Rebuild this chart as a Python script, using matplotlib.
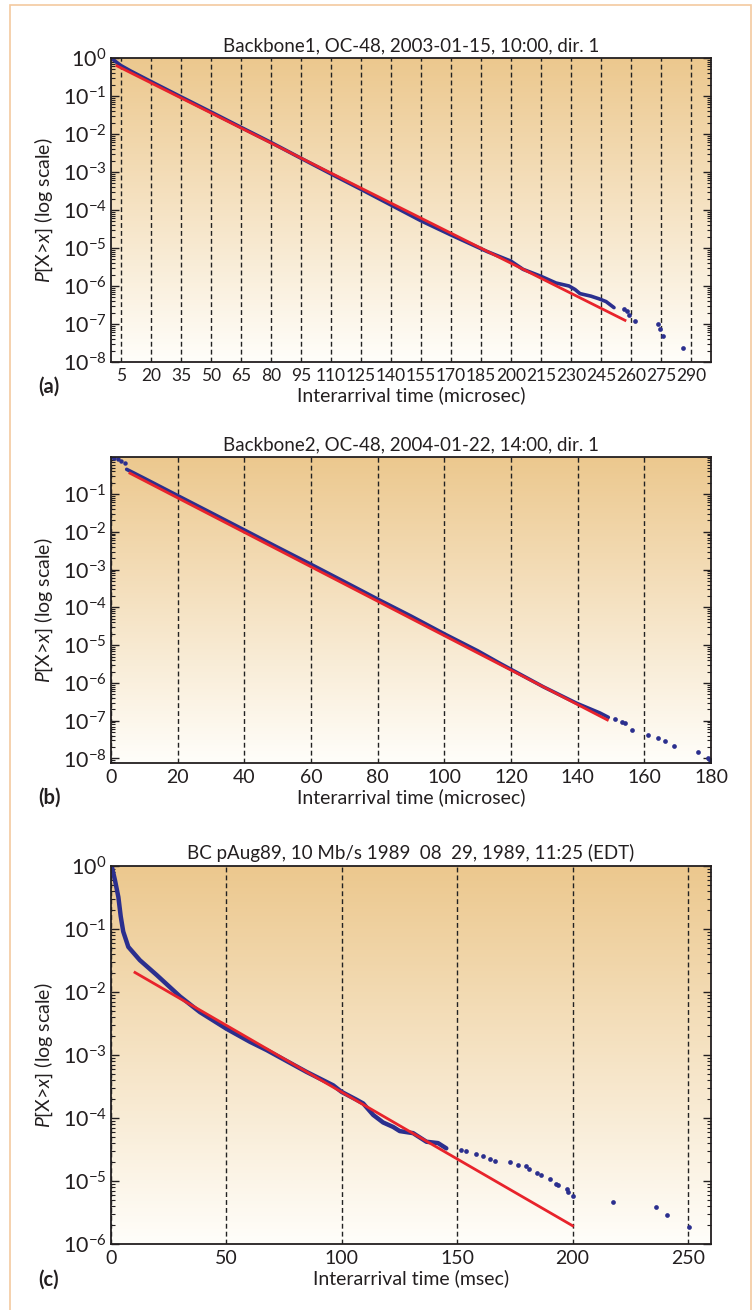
import matplotlib
matplotlib.use("Agg")
import matplotlib.pyplot as plt
import numpy as np
from matplotlib.patches import Rectangle
from matplotlib.ticker import FixedLocator, LogLocator, NullFormatter

plt.rcParams['font.family'] = ['Lato', 'DejaVu Sans']
plt.rcParams['mathtext.fontset'] = 'custom'
plt.rcParams['mathtext.rm'] = 'Lato'
plt.rcParams['mathtext.it'] = 'Lato:italic'
plt.rcParams['mathtext.bf'] = 'Lato:bold'

# ---- panel (a): Backbone1 ----
a_x = [0, 5, 10, 20, 35, 50, 65, 80, 95, 110, 125, 140, 155, 170, 188,
       200, 206, 215, 222.5, 229, 232, 234.5, 240, 244, 247.5, 251.5]
a_y = [1.0, 0.63, 0.45, 0.24, 0.095, 0.038, 0.015, 6.0e-3, 2.3e-3, 8.9e-4,
       3.5e-4, 1.35e-4, 5.2e-5, 2.2e-5, 8.1e-6, 4.5e-6, 2.75e-6, 1.8e-6,
       1.2e-6, 1.0e-6, 8.1e-7, 6.3e-7, 5.4e-7, 4.6e-7, 3.9e-7, 2.7e-7]
a_tail_x = [256.5, 258, 259, 262, 273.5, 274.5, 276, 286]
a_tail_y = [2.45e-7, 2.2e-7, 1.75e-7, 1.2e-7, 1.0e-7, 7.2e-8, 4.9e-8, 2.4e-8]
a_fit_x = [3, 257]
a_fit_y = [0.62, 1.25e-7]
a_ticks = [5, 20, 35, 50, 65, 80, 95, 110, 125, 140, 155, 170, 185, 200,
           215, 230, 245, 260, 275, 290]

# ---- panel (b): Backbone2 ----
b_head_x = [0, 1, 2, 3, 4.2]
b_head_y = [0.93, 0.88, 0.83, 0.76, 0.68]
b_x = [4.7, 10, 20, 30, 40, 50, 60, 70, 80, 90, 100, 110, 116.7, 129.7,
       139.7, 146.7, 149.2]
b_y = [0.45, 0.26, 0.091, 0.032, 0.0112, 3.9e-3, 1.38e-3, 4.8e-4, 1.66e-4,
       5.9e-5, 2.0e-5, 7.1e-6, 3.3e-6, 7.9e-7, 2.9e-7, 1.6e-7, 1.23e-7]
b_tail_x = [151.2, 153.2, 154.2, 156.2, 161.2, 164.2, 166.2, 169, 176.2,
            179.2, 179.7, 180]
b_tail_y = [1.1e-7, 9.5e-8, 8.5e-8, 5.8e-8, 4.3e-8, 3.5e-8, 2.95e-8, 2.1e-8,
            1.45e-8, 1.0e-8, 9.0e-9, 8.2e-9]
b_fit_x = [5.7, 148.9]
b_fit_y = [0.355, 1.05e-7]
b_ticks = [0, 20, 40, 60, 80, 100, 120, 140, 160, 180]

# ---- panel (c): BC pAug89 ----
c_x = [0.3, 1.7, 3.2, 4.2, 5.3, 7.5, 12.5, 19.8, 29.9, 38.5, 50.1, 60.2,
       67.4, 84.7, 96.3, 99.9, 106.4, 109.3, 113.6, 117.9, 122.3, 125.1,
       130.9, 136.7, 141.7, 145.3]
c_y = [1.0, 0.6, 0.32, 0.16, 0.091, 0.052, 0.032, 0.0186, 8.5e-3, 4.8e-3,
       2.6e-3, 1.62e-3, 1.2e-3, 5.4e-4, 3.3e-4, 2.6e-4, 1.95e-4, 1.7e-4,
       1.12e-4, 8.5e-5, 7.2e-5, 6.2e-5, 5.75e-5, 4.2e-5, 4.0e-5, 3.3e-5]
c_tail_x = [151.8, 154, 158.3, 161.2, 164.1, 166.3, 172.8, 176.4, 180, 181.2,
            184.4, 186.5, 190.1, 193, 193.8, 197.4, 198.1, 200.3, 217.7, 236,
            240.8, 250.6]
c_tail_y = [3.1e-5, 2.95e-5, 2.7e-5, 2.45e-5, 2.2e-5, 2.1e-5, 2.0e-5, 1.8e-5,
            1.7e-5, 1.55e-5, 1.35e-5, 1.26e-5, 1.07e-5, 9.1e-6, 8.5e-6, 7.6e-6,
            6.8e-6, 5.75e-6, 4.7e-6, 3.8e-6, 2.9e-6, 1.86e-6]
c_fit_x = [10.4, 200]
c_fit_y = [0.0204, 1.95e-6]
c_ticks = [0, 50, 100, 150, 200, 250]

BLUE = '#2b2f8e'
RED = '#e8232b'
INK = '#231f20'

W, H = 754, 1310
fig = plt.figure(figsize=(W / 100, H / 100), dpi=100)
fig.patch.set_facecolor('white')
fig.patches.append(Rectangle((10 / W, -0.01), 741 / W, 1 - 5 / H + 0.01,
                             transform=fig.transFigure, fill=False,
                             ec='#f4c9a0', lw=1.2))

top_col = np.array([236, 200, 142]) / 255
bot_col = np.array([255, 254, 250]) / 255
grad = np.linspace(0, 1, 256)[:, None, None]
grad_img = top_col * (1 - grad) + bot_col * grad


def box(top_px, bot_px):
    return [111 / W, 1 - bot_px / H, 600 / W, (bot_px - top_px) / H]


panels = [
    dict(rect=box(58, 362), title='Backbone1, OC-48, 2003-01-15, 10:00, dir. 1',
         xlim=(0, 300), ylim=(1e-8, 1), ticks=a_ticks, dec=range(-8, 1),
         line=(a_x, a_y), head=None, tail=(a_tail_x, a_tail_y),
         fit=(a_fit_x, a_fit_y), lw=2.6, xlabel='Interarrival time (microsec)',
         tag='(a)', tag_y=387, xls=12.5),
    dict(rect=box(457, 763), title='Backbone2, OC-48, 2004-01-22, 14:00, dir. 1',
         xlim=(0, 180), ylim=(7.6e-9, 0.955), ticks=b_ticks, dec=range(-8, 0),
         line=(b_x, b_y), head=(b_head_x, b_head_y), tail=(b_tail_x, b_tail_y),
         fit=(b_fit_x, b_fit_y), lw=2.6, xlabel='Interarrival time (microsec)',
         tag='(b)', tag_y=798, xls=14),
    dict(rect=box(866, 1244), title='BC pAug89, 10 Mb/s 1989  08  29, 1989, 11:25 (EDT)',
         xlim=(0, 260), ylim=(1e-6, 1), ticks=c_ticks, dec=range(-6, 1),
         line=(c_x, c_y), head=None, tail=(c_tail_x, c_tail_y),
         fit=(c_fit_x, c_fit_y), lw=3.2, xlabel='Interarrival time (msec)',
         tag='(c)', tag_y=1280, xls=14),
]

for p in panels:
    ax = fig.add_axes(p['rect'])
    ax.set_yscale('log')
    ax.imshow(grad_img, extent=[0, 1, 0, 1], transform=ax.transAxes,
              aspect='auto', zorder=0)
    for t in p['ticks']:
        ax.axvline(t, color='#222222', lw=1.0, ls=(0, (3.5, 2.2)), zorder=1)
    lx, ly = p['line']
    ax.plot(lx, ly, color=BLUE, lw=p['lw'], solid_capstyle='round', zorder=3)
    if p['head'] is not None:
        ax.plot(p['head'][0], p['head'][1], 'o', color=BLUE, ms=3.2,
                mec='none', zorder=3)
    ax.plot(p['tail'][0], p['tail'][1], 'o', color=BLUE, ms=3.4,
            mec='none', zorder=3)
    ax.plot(p['fit'][0], p['fit'][1], color=RED, lw=2.0, zorder=4)

    ax.set_xlim(*p['xlim'])
    ax.set_ylim(*p['ylim'])
    ax.xaxis.set_major_locator(FixedLocator(p['ticks']))
    ax.yaxis.set_major_locator(FixedLocator([10.0 ** d for d in p['dec']]))
    ax.yaxis.set_minor_locator(LogLocator(base=10, subs=np.arange(2, 10), numticks=20))
    ax.yaxis.set_minor_formatter(NullFormatter())
    ax.tick_params(axis='x', length=0, pad=4, labelsize=p['xls'], colors=INK)
    ax.tick_params(axis='y', which='both', direction='in', left=True,
                   right=True, colors=INK, labelsize=15.5, pad=3)
    ax.tick_params(axis='y', which='major', length=6, width=1)
    ax.tick_params(axis='y', which='minor', length=3, width=0.8)
    for s in ax.spines.values():
        s.set_color(INK)
        s.set_linewidth(1.3)
        s.set_zorder(5)

    ax.set_title(p['title'], fontsize=13.5, color=INK, pad=5)
    ax.set_xlabel(p['xlabel'], fontsize=14, color=INK, labelpad=2)
    ax.set_ylabel('$P$[X>$x$] (log scale)', fontsize=14, color=INK)
    ax.yaxis.set_label_coords(-0.093, 0.5)
    fig.text(38 / W, 1 - p['tag_y'] / H, p['tag'], fontsize=14.5,
             fontweight='bold', color=INK, va='center', ha='left')

fig.savefig('out.png', dpi=100, facecolor='white')
